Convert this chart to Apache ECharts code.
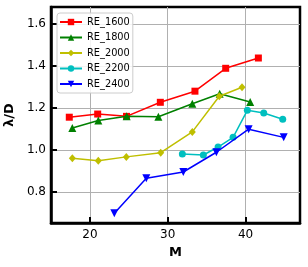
<!DOCTYPE html>
<html><head><meta charset="utf-8">
<script src="https://cdn.jsdelivr.net/npm/echarts@6/dist/echarts.min.js"></script>
<style>html,body{margin:0;padding:0;background:#fff}#c{width:308px;height:267px}</style>
</head><body><div id="c"></div>
<script>
const xTicks = [20, 30, 40];
const yTicks = [0.8, 1.0, 1.2, 1.4, 1.6];
const seriesNames = ['RE_1600', 'RE_1800', 'RE_2000', 'RE_2200', 'RE_2400'];
const re1600M = [17.35, 21.0, 24.7, 29.05, 33.5, 37.45, 41.65];
const re1600V = [1.156, 1.171, 1.160, 1.227, 1.280, 1.389, 1.438];
const re1800M = [17.74, 21.08, 24.73, 28.8, 33.16, 36.68, 40.6];
const re1800V = [1.105, 1.140, 1.161, 1.158, 1.220, 1.268, 1.228];
const re2000M = [17.74, 21.08, 24.68, 29.1, 33.16, 36.63, 39.55];
const re2000V = [0.960, 0.949, 0.967, 0.987, 1.086, 1.256, 1.299];
const re2200M = [31.88, 34.58, 36.47, 38.4, 40.23, 42.34, 44.78];
const re2200V = [0.981, 0.976, 1.014, 1.060, 1.189, 1.176, 1.146];
const re2400M = [23.14, 27.25, 32.0, 36.25, 40.4, 44.9];
const re2400V = [0.698, 0.865, 0.895, 0.989, 1.099, 1.060];

const pairs = (m, v) => m.map((x, i) => [x, v[i]]);
const colors = ['#ff0000', '#008000', '#bfbf00', '#00bfbf', '#0000ff'];
const symbols = ['rect', 'triangle', 'path://M0,-1L1,0L0,1L-1,0Z', 'circle', 'triangle'];
const sizes = [7, 8, [7, 8], 7, 8];
const rot = [0, 0, 0, 0, 180];
const datas = [pairs(re1600M, re1600V), pairs(re1800M, re1800V), pairs(re2000M, re2000V), pairs(re2200M, re2200V), pairs(re2400M, re2400V)];

const chart = echarts.init(document.getElementById('c'), null, {renderer: 'canvas'});
const font = 'DejaVu Sans';
chart.setOption({
  animation: false,
  textStyle: {fontFamily: font},
  grid: {left: 51, right: 8, top: 7, bottom: 44, show: true, borderColor: '#000', borderWidth: 2.5, containLabel: false, outerBoundsMode: 'none'},
  legend: {
    left: 57, top: 13, orient: 'vertical', itemWidth: 22, itemHeight: 8, itemGap: 5.5,
    padding: [4, 3, 4, 2], borderColor: '#cccccc', borderWidth: 1, borderRadius: 3,
    backgroundColor: 'rgba(255,255,255,0.85)',
    textStyle: {fontSize: 9.8, color: '#000', fontFamily: font},
    data: seriesNames
  },
  xAxis: {
    type: 'value', min: 15, max: 47,
    name: 'M', nameLocation: 'middle', nameGap: 23,
    nameTextStyle: {fontSize: 13, fontWeight: 'bold', color: '#000', fontFamily: font},
    axisLine: {show: true, onZero: false, lineStyle: {color: '#000', width: 2.5}},
    axisTick: {show: true, inside: true, length: 6, customValues: xTicks, lineStyle: {color: '#000', width: 2}},
    axisLabel: {show: true, margin: 6, fontSize: 12, color: '#000', customValues: xTicks, fontFamily: font},
    splitLine: {show: true, lineStyle: {color: '#b0b0b0', width: 1}}
  },
  yAxis: {
    type: 'value', min: 0.652, max: 1.681,
    name: 'λ/D', nameLocation: 'middle', nameGap: 30,
    nameTextStyle: {fontSize: 13, fontWeight: 'bold', color: '#000', fontFamily: font},
    axisLine: {show: true, onZero: false, lineStyle: {color: '#000', width: 2.5}},
    axisTick: {show: true, inside: true, length: 6, customValues: yTicks, lineStyle: {color: '#000', width: 2}},
    axisLabel: {show: true, margin: 5, fontSize: 12, color: '#000', customValues: yTicks, fontFamily: font,
      formatter: v => v.toFixed(1)},
    splitLine: {show: true, lineStyle: {color: '#b0b0b0', width: 1}}
  },
  series: seriesNames.map((n, i) => ({
    name: n, type: 'line', data: datas[i],
    symbol: symbols[i], symbolSize: sizes[i], symbolRotate: rot[i], showAllSymbol: true,
    lineStyle: {color: colors[i], width: 1.5},
    itemStyle: {color: colors[i], borderWidth: 0},
    z: 2 + i
  }))
});
</script></body></html>
